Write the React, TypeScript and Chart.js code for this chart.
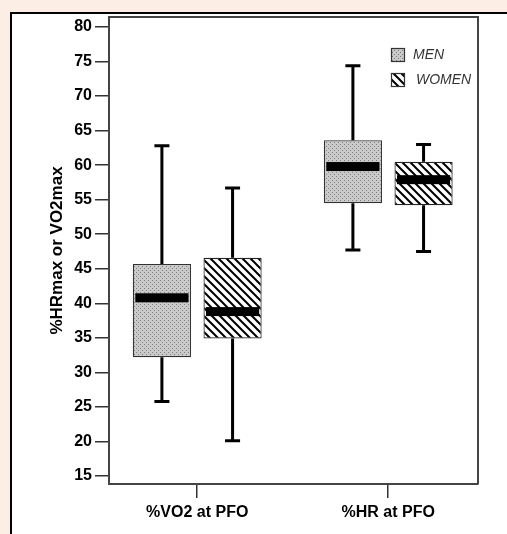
import React, { useEffect, useRef } from 'react';
import { Chart, registerables } from 'chart.js';

Chart.register(...registerables);

const categories = ['%VO2 at PFO', '%HR at PFO'];
const categoryPositions = [1, 2];
const yTicks = [15, 20, 25, 30, 35, 40, 45, 50, 55, 60, 65, 70, 75, 80];
const seriesLabels = ['MEN', 'WOMEN'];

const menMin = [25.8, 47.7];
const menQ1 = [32.2, 54.5];
const menMedian = [40.8, 59.8];
const menQ3 = [45.7, 63.6];
const menMax = [62.8, 74.4];

const womenMin = [20.1, 47.5];
const womenQ1 = [34.9, 54.2];
const womenMedian = [38.8, 57.9];
const womenQ3 = [46.6, 60.5];
const womenMax = [56.7, 63.0];

const FONT = '"Liberation Sans", Arial, Helvetica, sans-serif';

function makeDotPattern(ctx: CanvasRenderingContext2D) {
  const c = document.createElement('canvas');
  c.width = 4;
  c.height = 4;
  const g = c.getContext('2d')!;
  g.fillStyle = '#cacaca';
  g.fillRect(0, 0, 4, 4);
  g.fillStyle = '#7e7e7e';
  g.fillRect(0, 0, 1, 1);
  g.fillRect(2, 2, 1, 1);
  return ctx.createPattern(c, 'repeat')!;
}

function makeStripePattern(ctx: CanvasRenderingContext2D) {
  const c = document.createElement('canvas');
  c.width = 8;
  c.height = 8;
  const g = c.getContext('2d')!;
  g.fillStyle = '#ffffff';
  g.fillRect(0, 0, 8, 8);
  g.strokeStyle = '#000000';
  g.lineWidth = 2;
  g.beginPath();
  for (const k of [-8, 0, 8]) {
    g.moveTo(k - 1, -1);
    g.lineTo(k + 9, 9);
  }
  g.stroke();
  return ctx.createPattern(c, 'repeat')!;
}

const boxPlugin = {
  id: 'boxWhiskers',
  afterDatasetsDraw(chart: any) {
    const ctx = chart.ctx;
    const yScale = chart.scales.y;
    chart.data.datasets.forEach((ds: any, di: number) => {
      const meta = chart.getDatasetMeta(di);
      meta.data.forEach((bar: any, j: number) => {
        const { x, width } = bar.getProps(['x', 'width'], true);
        const q1 = yScale.getPixelForValue(ds.stats.q1[j]);
        const q3 = yScale.getPixelForValue(ds.stats.q3[j]);
        const mn = yScale.getPixelForValue(ds.stats.min[j]);
        const mx = yScale.getPixelForValue(ds.stats.max[j]);
        const md = yScale.getPixelForValue(ds.stats.median[j]);
        ctx.save();
        ctx.strokeStyle = '#000';
        ctx.lineWidth = 3;
        ctx.beginPath();
        ctx.moveTo(x, q3);
        ctx.lineTo(x, mx);
        ctx.moveTo(x, q1);
        ctx.lineTo(x, mn);
        ctx.moveTo(x - 7.5, mx);
        ctx.lineTo(x + 7.5, mx);
        ctx.moveTo(x - 7.5, mn);
        ctx.lineTo(x + 7.5, mn);
        ctx.stroke();
        ctx.fillStyle = '#000';
        ctx.fillRect(x - width / 2 + 2.5, md - 4.5, width - 5, 9);
        ctx.restore();
      });
    });
  },
};

const framePlugin = {
  id: 'frame',
  afterDraw(chart: any) {
    const { ctx, chartArea } = chart;
    ctx.save();
    ctx.strokeStyle = '#444';
    ctx.lineWidth = 2;
    ctx.beginPath();
    ctx.moveTo(chartArea.left, chartArea.top);
    ctx.lineTo(chartArea.right, chartArea.top);
    ctx.lineTo(chartArea.right, chartArea.bottom);
    ctx.stroke();
    ctx.restore();
  },
};

const legendPlugin = {
  id: 'innerLegend',
  afterDraw(chart: any) {
    const { ctx, chartArea } = chart;
    const x0 = chartArea.right - 87;
    const y0 = chartArea.top + 31;
    ctx.save();
    chart.data.datasets.forEach((ds: any, i: number) => {
      const y = y0 + i * 25;
      ctx.fillStyle = ds.backgroundColor;
      ctx.fillRect(x0, y, 14, 14);
      ctx.strokeStyle = '#333';
      ctx.lineWidth = 1.2;
      ctx.strokeRect(x0 + 0.5, y + 0.5, 13, 13);
      ctx.fillStyle = '#333';
      ctx.font = `italic 14px ${FONT}`;
      ctx.textBaseline = 'middle';
      ctx.textAlign = 'left';
      ctx.fillText(ds.label, x0 + 22 + i * 3, y + 7.5);
    });
    ctx.restore();
  },
};

export default function App() {
  const ref = useRef<HTMLCanvasElement>(null);

  useEffect(() => {
    const canvas = ref.current!;
    const ctx = canvas.getContext('2d')!;
    const menPattern = makeDotPattern(ctx);
    const womenPattern = makeStripePattern(ctx);

    const chart = new Chart(canvas, {
      type: 'bar',
      data: {
        datasets: [
          {
            label: seriesLabels[0],
            data: categoryPositions.map((x, i) => ({ x, y: [menQ1[i], menQ3[i]] })),
            stats: { min: menMin, q1: menQ1, median: menMedian, q3: menQ3, max: menMax },
            backgroundColor: menPattern,
            borderColor: '#333',
            borderWidth: 1.2,
            borderSkipped: false,
            categoryPercentage: 0.74,
            barPercentage: 0.823,
          } as any,
          {
            label: seriesLabels[1],
            data: categoryPositions.map((x, i) => ({ x, y: [womenQ1[i], womenQ3[i]] })),
            stats: { min: womenMin, q1: womenQ1, median: womenMedian, q3: womenQ3, max: womenMax },
            backgroundColor: womenPattern,
            borderColor: '#222',
            borderWidth: 1.2,
            borderSkipped: false,
            categoryPercentage: 0.74,
            barPercentage: 0.823,
          } as any,
        ],
      },
      options: {
        responsive: false,
        animation: false,
        layout: { padding: { left: 0, top: 17, right: 29, bottom: 0 } },
        plugins: {
          legend: { display: false },
          tooltip: { enabled: false },
        },
        scales: {
          x: {
            type: 'linear',
            offset: false,
            min: 0.538,
            max: 2.47,
            afterBuildTicks: (s: any) => {
              s.ticks = categoryPositions.map((v) => ({ value: v }));
            },
            afterFit: (s: any) => {
              s.height = 50;
            },
            ticks: {
              autoSkip: false,
              maxRotation: 0,
              padding: 5,
              color: '#000',
              font: { family: FONT, size: 16, weight: 'bold' },
              callback: (v: any) => categories[categoryPositions.indexOf(Number(v))] ?? '',
            },
            grid: { offset: false, drawOnChartArea: false, drawTicks: true, tickLength: 14, color: '#333', lineWidth: 1.5 },
            border: { display: true, color: '#444', width: 2 },
          },
          y: {
            type: 'linear',
            min: 13.84,
            max: 81.45,
            afterBuildTicks: (s: any) => {
              s.ticks = yTicks.map((v) => ({ value: v }));
            },
            afterFit: (s: any) => {
              s.width = 109;
            },
            ticks: {
              padding: 3,
              color: '#000',
              font: { family: FONT, size: 16, weight: 'bold' },
            },
            grid: { drawOnChartArea: false, drawTicks: true, tickLength: 14, color: '#333', lineWidth: 1.5 },
            border: { display: true, color: '#444', width: 2 },
            title: {
              display: true,
              text: '%HRmax or VO2max',
              color: '#000',
              font: { family: FONT, size: 17, weight: 'bold' },
              padding: { top: 47, bottom: 0 },
            },
          },
        },
      } as any,
      plugins: [boxPlugin, framePlugin, legendPlugin],
    });
    return () => chart.destroy();
  }, []);

  return (
    <div style={{ position: 'fixed', left: 0, top: 0, width: 507, height: 534, background: '#fdeee5', overflow: 'hidden' }}>
      <div
        style={{
          position: 'absolute',
          left: 10,
          top: 12,
          width: 520,
          height: 540,
          background: '#ffffff',
          borderLeft: '2px solid #000',
          borderTop: '2px solid #000',
        }}
      />
      <canvas ref={ref} width={507} height={534} style={{ position: 'absolute', left: 0, top: 0 }} />
    </div>
  );
}
